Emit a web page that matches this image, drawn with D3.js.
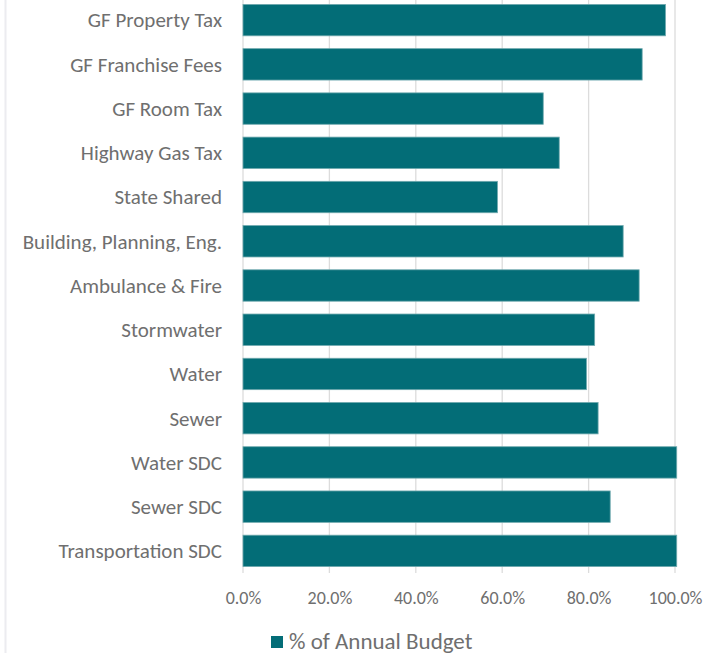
<!DOCTYPE html>
<html>
<head>
<meta charset="utf-8">
<script src="https://cdn.jsdelivr.net/npm/d3@7"></script>
<style>
  body { margin: 0; background: #fff; }
  text { font-family: Carlito, Lato, "Open Sans", sans-serif; fill: #6f6f6f; }
</style>
</head>
<body>
<div id="chart"></div>
<script>
// Data
const categories = ["GF Property Tax", "GF Franchise Fees", "GF Room Tax", "Highway Gas Tax",
  "State Shared", "Building, Planning, Eng.", "Ambulance & Fire", "Stormwater", "Water",
  "Sewer", "Water SDC", "Sewer SDC", "Transportation SDC"];
const pctOfBudget = [97.8, 92.4, 69.5, 73.2, 58.9, 88.0, 91.7, 81.4, 79.5, 82.2, 100.4, 85.0, 100.4];
const tickValues = [0, 20, 40, 60, 80, 100];
const seriesName = "% of Annual Budget";

const W = 728, H = 655;
const margin = {top: 0, right: 53, bottom: 82, left: 243};
const width = W - margin.left - margin.right;
const height = H - margin.top - margin.bottom;

const svg = d3.select("#chart").append("svg")
  .attr("width", W)
  .attr("height", H);

// chart border (left edge visible)
svg.append("line")
  .attr("x1", 5.5).attr("x2", 5.5)
  .attr("y1", 0).attr("y2", H - 2)
  .attr("stroke", "#ececf0")
  .attr("stroke-width", 2);

const g = svg.append("g")
  .attr("transform", `translate(${margin.left},${margin.top})`);

const x = d3.scaleLinear().domain([0, 100]).range([0, 432]);
const y = d3.scaleBand()
  .domain(categories)
  .range([-2, height])
  .paddingInner(0.29)
  .paddingOuter(0.145);

// gridlines
g.append("g")
  .selectAll("line")
  .data(tickValues)
  .join("line")
    .attr("x1", d => x(d)).attr("x2", d => x(d))
    .attr("y1", 0).attr("y2", height)
    .attr("stroke", "#dcdcdc")
    .attr("stroke-width", 1.3);

// bars
g.append("g")
  .selectAll("rect")
  .data(categories)
  .join("rect")
    .attr("x", x(0))
    .attr("y", d => y(d))
    .attr("width", (d, i) => x(pctOfBudget[i]) - x(0))
    .attr("height", y.bandwidth())
    .attr("fill", "#036d77")
    .attr("stroke", "#6fa9ae")
    .attr("stroke-width", 0.8);

// category labels
g.append("g")
  .selectAll("text")
  .data(categories)
  .join("text")
    .attr("x", -21)
    .attr("y", d => y(d) + y.bandwidth() / 2)
    .attr("dy", "0.35em")
    .attr("text-anchor", "end")
    .style("font-size", "21px")
    .text(d => d);

// x axis labels
const xAxis = d3.axisBottom(x)
  .tickValues(tickValues)
  .tickFormat(d => d3.format(".1f")(d) + "%")
  .tickSize(0)
  .tickPadding(18);

g.append("g")
  .attr("transform", `translate(0,${height})`)
  .call(xAxis)
  .call(a => a.select(".domain").remove())
  .selectAll("text")
    .style("font-size", "18px")
    .style("font-family", "Carlito, Lato, 'Open Sans', sans-serif")
    .attr("fill", "#6f6f6f");

// legend
const legend = svg.append("g")
  .attr("transform", `translate(271, 630)`);

legend.append("rect")
  .attr("width", 12)
  .attr("height", 12)
  .attr("y", 6)
  .attr("fill", "#036d77");

legend.append("text")
  .attr("x", 18)
  .attr("y", 11)
  .attr("dy", "0.35em")
  .style("font-size", "23px")
  .text(seriesName);
</script>
</body>
</html>
